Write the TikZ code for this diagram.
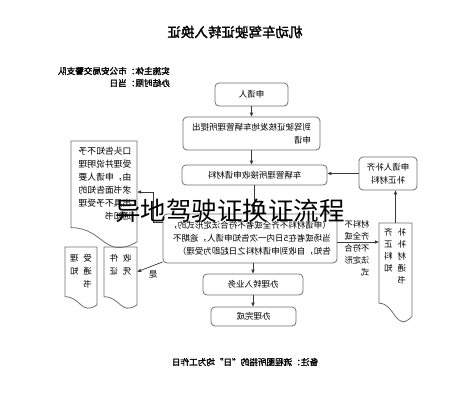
\documentclass[tikz,border=0pt]{standalone}
\usepackage{fontspec}
\usetikzlibrary{arrows.meta}
\newfontfamily\cjk{Noto Sans CJK SC}
\newfontfamily\cjkb{Noto Sans CJK SC}[FakeBold=2]
\definecolor{boxgray}{HTML}{707070}
\definecolor{linegray}{HTML}{3A3A3A}
\newcommand\mydoc[5]{%
  \pgfmathsetmacro\dxr{#2+#4}%
  \pgfmathsetmacro\dyr{#3+0.802*#5}%
  \pgfmathsetmacro\dxm{#2+0.5*#4}%
  \pgfmathsetmacro\dyc{#3+1.1075*#5}%
  \pgfmathsetmacro\dyl{#3+0.934*#5}%
  \pgfmathsetmacro\dhh{0.8*#5}%
  \pgfmathsetmacro\dyn{#3+0.4*#5}%
  \draw[docline] (#2,#3) -- (\dxr,#3) -- (\dxr,\dyr) .. controls (\dxm,\dyr) and (\dxm,\dyc) .. (#2,\dyl) -- cycle;
  \node[inner sep=0pt, minimum width=#4pt, minimum height=\dhh pt] (#1) at (\dxm,\dyn) {};
}
\begin{document}
\begin{tikzpicture}[x=1pt,y=-1pt,
  box/.style={draw=boxgray, rounded corners=4pt, line width=0.8pt, inner sep=0pt, font=\cjk\fontsize{8.5}{13}\selectfont},
  docline/.style={draw=boxgray, line width=0.8pt},
  txt/.style={inner sep=0pt, font=\cjk\fontsize{8.5}{13}\selectfont, align=left},
  conn/.style={draw=linegray, line width=0.7pt, -{Triangle[length=4pt,width=3.2pt]}},
]
\fill[white] (0,0) rectangle (459,400);
\useasboundingbox (0,0) rectangle (459,400);
\begin{scope}[shift={(459,0)}, xscale=-1, transform shape]
  \node[inner sep=0pt, font=\cjkb\fontsize{13.5}{16}\selectfont] (title) at (224,32) {机动车驾驶证转入换证};
  \node[anchor=west, inner sep=0pt, font=\cjkb\fontsize{8.6}{12}\selectfont] (info1) at (289,71) {实施主体：市公安局交警支队};
  \node[anchor=west, inner sep=0pt, font=\cjkb\fontsize{8.6}{12}\selectfont] (info2) at (289,83) {办结时限：当日};

  \node[box, minimum width=73pt, minimum height=23pt] (n1) at (207.5,94.5) {申请人};
  \node[box, minimum width=137pt, minimum height=33pt, align=left] (n2) at (207.5,133.5) {到驾驶证核发地车辆管理所提出\\申请};
  \node[box, minimum width=145pt, minimum height=20pt] (n3) at (204.5,175) {车辆管理所接收申请材料};
  \node[box, minimum width=58pt, minimum height=33pt, align=center] (n4) at (71,173.5) {申请人补齐\\补正材料};
  \node[box, minimum width=174pt, minimum height=49pt, align=left] (n5) at (209,238.5) {（申请材料不齐全或者不符合法定形式的，\\当场或者在5日内一次告知申请人，逾期不\\告知，自收到申请材料之日起即为受理）};
  \node[box, minimum width=100pt, minimum height=21pt] (n6) at (206,284.5) {办理转入业务};
  \node[box, minimum width=85pt, minimum height=19pt] (n7) at (205.5,316.5) {办理完成};
  \node[inner sep=0pt, font=\cjkb\fontsize{8.6}{12}\selectfont] (note) at (214,362) {备注：流程图所指的“日”均为工作日};

  \mydoc{d1}{322}{141}{66}{108}
  \node[txt, font=\cjk\fontsize{8.8}{13}\selectfont] (d1t) at (354,183.5) {口头告知不予\\受理并说明理\\由，申请人要\\求书面告知的\\出具不予受理\\通知书};
  \mydoc{dA}{362}{247}{32}{62}
  \node[txt] (dAt) at (378,271) {受\hspace{5pt}理\\通\hspace{5pt}知\\书};
  \mydoc{dB}{322}{247}{33}{62}
  \node[txt] (dBt) at (338.5,264.5) {收\hspace{5pt}件\\凭\hspace{5pt}证};
  \mydoc{dR}{47}{223}{33}{100}
  \node[txt, font=\cjk\fontsize{8.5}{12}\selectfont] (dRt) at (64,256) {补\hspace{5pt}齐\\补\hspace{5pt}正\\材\hspace{5pt}料\\通\hspace{5pt}知\\书};

  \node[txt, font=\cjk\fontsize{8.3}{12}\selectfont] (lab) at (102,248) {材料不\\齐全或\\不符合\\法定形\\式};
  \node[txt] (yes) at (306,274) {是};

  \coordinate (c1) at (306,222);
  \coordinate (c2) at (306,192);

  \draw[conn] (n1.south) -- (n2.north);
  \draw[conn] (n2.south) -- (n2.south |- n3.north);
  \draw[conn] (n4.east) -- (n4.east -| n3.west);
  \draw[conn] (n3.south) -- (n3.south |- n5.north);
  \draw[conn] (n6.north |- n5.south) -- (n6.north);
  \draw[conn] (n6.south) -- (n6.south |- n7.north);
  \draw[conn] ([yshift=-3.5pt]n5.west) -- ([yshift=-3.5pt]n5.west -| dR.east);
  \draw[conn] (dR.north) -- (dR.north |- n4.south);
  \draw[conn] (n5.east |- c1) -- (c1) -- (c2) -- (c2 -| d1.west);
  \draw[conn] (n5.-15) -- (dB.west);
\end{scope}
\node[inner sep=0pt, font=\cjk\fontsize{25.5}{30}\selectfont] (ov) at (230,211) {异地驾驶证换证流程};
\end{tikzpicture}
\end{document}
